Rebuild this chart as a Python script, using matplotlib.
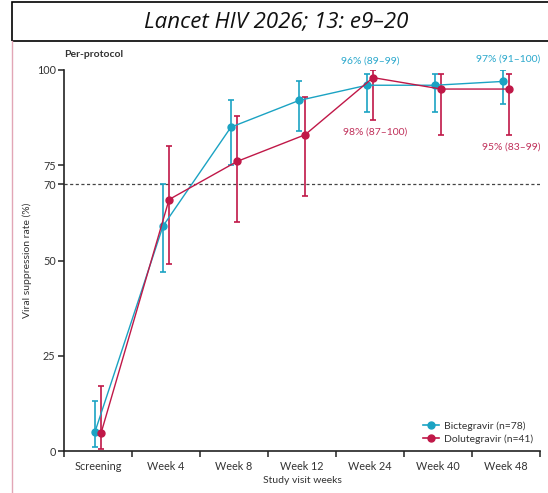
import numpy as np
import matplotlib
matplotlib.use("Agg")
import matplotlib.pyplot as plt
from matplotlib.patches import Rectangle
from matplotlib.lines import Line2D

visits = ["Screening", "Week 4", "Week 8", "Week 12", "Week 24", "Week 40", "Week 48"]

bic = [5, 59, 85, 92, 96, 96, 97]
bic_lo = [1, 47, 75, 84, 89, 89, 91]
bic_hi = [13, 70, 92, 97, 99, 99, 100]

dol = [4.7, 66, 76, 83, 98, 95, 95]
dol_lo = [0.5, 49, 60, 67, 87, 83, 83]
dol_hi = [17, 80, 88, 93, 100, 99, 99]

CYAN = "#1ba3c3"
RED = "#c01848"
FONT = "Lato"

fig = plt.figure(figsize=(5.48, 4.93), dpi=100)

# citation box across the top
fig.patches.append(Rectangle((12 / 548, 1 - 41 / 493), 1.0, 39 / 493, transform=fig.transFigure,
                             fill=False, edgecolor="black", lw=1.2, clip_on=False))
fig.text(276 / 548, 1 - 22 / 493, "Lancet HIV 2026; 13: e9\u201320", ha="center", va="center",
         fontsize=16, style="italic", family="Open Sans", color="#111111")
fig.add_artist(Line2D([12 / 548, 12 / 548], [0, 1 - 41 / 493], transform=fig.transFigure,
                      color="#e2a6b6", lw=1.0))

ax = fig.add_axes([64 / 548, 42 / 493, 476 / 548, 381 / 493])
x = np.arange(len(visits))
off = 0.045

ax.errorbar(x - off, bic, yerr=[np.subtract(bic, bic_lo), np.subtract(bic_hi, bic)],
            color=CYAN, marker="o", ms=5, lw=1.0, elinewidth=1.2, capsize=2.5, capthick=1.2,
            zorder=3)
ax.errorbar(x + off, dol, yerr=[np.subtract(dol, dol_lo), np.subtract(dol_hi, dol)],
            color=RED, marker="o", ms=5, lw=1.0, elinewidth=1.2, capsize=2.5, capthick=1.2,
            zorder=3)

ax.axhline(70, color="#444444", lw=0.9, ls=(0, (2.5, 2)), zorder=1)

# labelled estimates
lab = dict(ha="center", va="center", fontsize=7.5, family=FONT, clip_on=False)
ax.text(4, 102.4, f"{bic[4]}% ({bic_lo[4]}\u2013{bic_hi[4]})", color="#2aa8cc", **lab)
ax.text(6.03, 102.9, f"{bic[6]}% ({bic_lo[6]}\u2013{bic_hi[6]})", color="#2aa8cc", **lab)
ax.text(4.08, 83.7, f"{dol[4]}% ({dol_lo[4]}\u2013{dol_hi[4]})", color="#c0305a", **lab)
ax.text(6.08, 79.8, f"{dol[6]}% ({dol_lo[6]}\u2013{dol_hi[6]})", color="#c0305a", **lab)

ax.set_xlim(-0.5, len(visits) - 0.5)
ax.set_ylim(0, 100)
ax.set_yticks([0, 25, 50, 70, 75, 100])
ax.set_xticks(np.arange(len(visits) + 1) - 0.5)
ax.set_xticklabels([])
ax.set_xticks(x, minor=True)
ax.set_xticklabels(visits, minor=True)
ax.tick_params(axis="x", which="major", length=4, width=1.1, color="#222222")
ax.tick_params(axis="x", which="minor", length=0, pad=7)
ax.tick_params(axis="y", length=4, width=1.1, color="#222222", pad=2)
for lbl in ax.get_xticklabels(minor=True) + ax.get_yticklabels():
    lbl.set_fontfamily(FONT)
    lbl.set_fontsize(7.8)
    lbl.set_color("#333333")

for s in ["top", "right"]:
    ax.spines[s].set_visible(False)
for s in ["left", "bottom"]:
    ax.spines[s].set_color("#222222")
    ax.spines[s].set_linewidth(1.2)

ax.set_xlabel("Study visit weeks", family=FONT, fontsize=7.5, color="#333333", labelpad=3)
ax.set_ylabel("Viral suppression rate (%)", family=FONT, fontsize=7.5, color="#333333", labelpad=3)
ax.text(0, 1.04, "Per-protocol", transform=ax.transAxes, fontsize=7.5, family=FONT,
        weight="bold", color="#333333", ha="left", va="center")

handles = [Line2D([], [], color=CYAN, marker="o", ms=5, lw=1.2),
           Line2D([], [], color=RED, marker="o", ms=5, lw=1.2)]
leg = ax.legend(handles, ["Bictegravir (n=78)", "Dolutegravir (n=41)"], loc="lower right",
                frameon=False, prop={"family": FONT, "size": 7.5},
                handlelength=1.6, handletextpad=0.4, labelspacing=0.3, borderaxespad=0.3)
for t in leg.get_texts():
    t.set_color("#333333")

fig.savefig("out.png", dpi=100)
